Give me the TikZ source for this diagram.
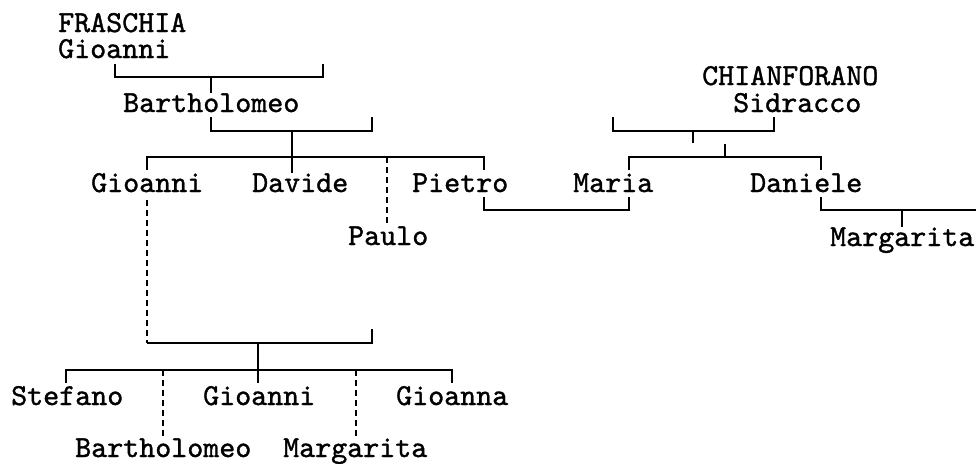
\documentclass[tikz,border=0pt]{standalone}
\usepackage{fontspec}
\setmonofont{lmmono10-regular.otf}[FakeBold=1.2]
\begin{document}
\begin{tikzpicture}[x=1pt,y=-1pt,
    person/.style={anchor=base west,inner sep=0pt,text depth=0pt,
        font=\fontsize{30.5}{30.5}\selectfont\ttfamily},
    line/.style={line width=1.8pt},
    link/.style={line width=1.3pt,dash pattern=on 6pt off 4pt}]
    \useasboundingbox (0,0) rectangle (976,463);

    % Fraschia side
    \node[person] (fraschia) at (58,32) {FRASCHIA};
    \node[person] (gioanni1) at (58,58) {Gioanni};
    \node[person] (bart1) at (123,112) {Bartholomeo};

    % Chianforano side
    \node[person] (chianforano) at (702,85) {CHIANFORANO};
    \node[person] (sidracco) at (733,112) {Sidracco};

    % Second generation
    \node[person] (gioanni2) at (91,192) {Gioanni};
    \node[person] (davide) at (252,192) {Davide};
    \node[person] (pietro) at (412,192) {Pietro};
    \node[person] (maria) at (573,192) {Maria};
    \node[person] (daniele) at (750,192) {Daniele};
    \node[person] (paulo) at (348,245) {Paulo};
    \node[person] (margarita1) at (830,246) {Margarita};

    % Third generation
    \node[person] (stefano) at (11,405) {Stefano};
    \node[person] (gioanni3) at (203,405) {Gioanni};
    \node[person] (gioanna) at (396,405) {Gioanna};
    \node[person] (bart2) at (75,457) {Bartholomeo};
    \node[person] (margarita2) at (283,457) {Margarita};

    % Junctions
    \coordinate (f1) at (211,77);
    \coordinate (f2) at (292,131);
    \coordinate (f3) at (387,157);
    \coordinate (c1) at (693,131);
    \coordinate (c2) at (725,157);
    \coordinate (m1) at (902,210);
    \coordinate (g0) at (147,200);
    \coordinate (g1) at (258,343);
    \coordinate (g2) at (163,370);
    \coordinate (g3) at (356,370);

    % Gioanni -> Bartholomeo
    \draw[line] (115,64) |- (323,77) -- (323,64);
    \draw[line] (f1) -- (f1 |- bart1.north);

    % Bartholomeo -> children
    \draw[line] (211,117) |- (372,131) -- (372,117);
    \draw[line] (f2) -- (f2 |- davide.north);
    \draw[line] (147,170) |- (484,157) -- (484,170);
    \draw[link] (f3) -- (f3 |- paulo.north);

    % Sidracco -> children
    \draw[line] (613,117) |- (774,131) -- (774,117);
    \draw[line] (c1) -- ++(0,12);
    \draw[line] (c2) -- ++(0,-13);
    \draw[line] (629,170) |- (821,157) -- (821,170);

    % Pietro = Maria
    \draw[line] (484,197) |- (629,210) -- (629,197);

    % Daniele -> Margarita
    \draw[line] (821,197) |- (976,210);
    \draw[line] (m1) -- (m1 |- margarita1.north);

    % Gioanni -> children
    \draw[link] (g0) -- (147,343);
    \draw[line] (147,343) -- (372,343) -- (372,329);
    \draw[line] (g1) -- (258,383);
    \draw[line] (66,383) |- (452,370) -- (452,383);
    \draw[link] (g2) -- (g2 |- bart2.north);
    \draw[link] (g3) -- (g3 |- margarita2.north);
\end{tikzpicture}
\end{document}
